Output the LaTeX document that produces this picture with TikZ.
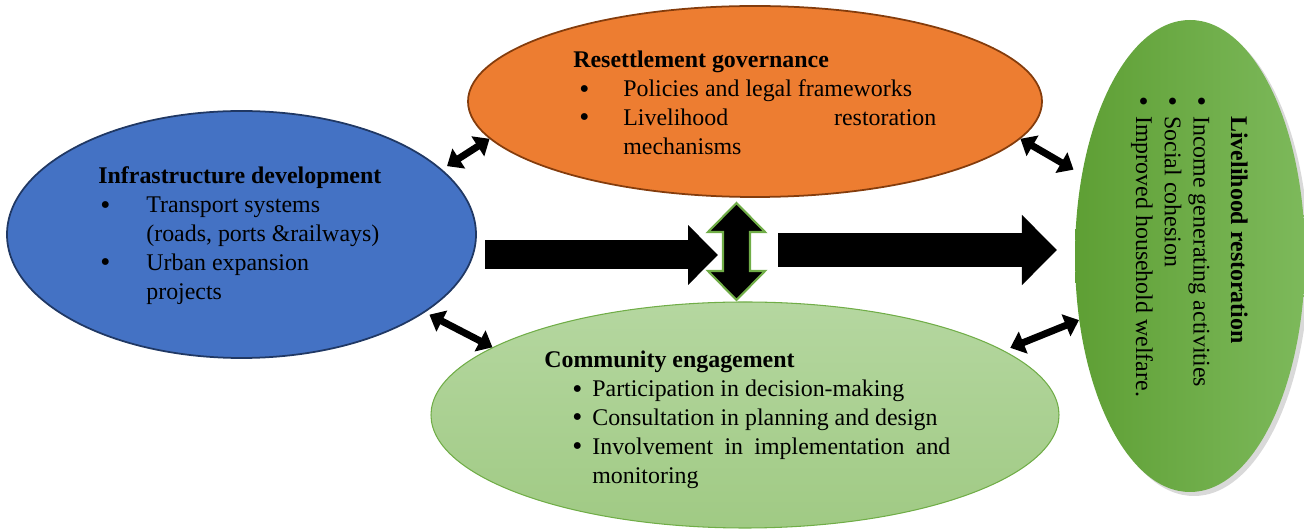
\documentclass[tikz,border=0pt]{standalone}
\usepackage{fontspec}
\setmainfont{Liberation Serif}
\usetikzlibrary{shapes.geometric,arrows.meta,shadows}

\definecolor{infrablue}{HTML}{4472C4}
\definecolor{infraedge}{HTML}{203864}
\definecolor{govorange}{HTML}{ED7D31}
\definecolor{govedge}{HTML}{843C0C}
\definecolor{commtop}{HTML}{B5D7A0}
\definecolor{commbottom}{HTML}{A0CA84}
\definecolor{commedge}{HTML}{70AD47}
\definecolor{livleft}{HTML}{5E9F34}
\definecolor{livright}{HTML}{7DB95B}

\newcommand{\blt}{\raisebox{-0.05em}{\scalebox{1.2}{\textbullet}}}

\begin{document}
\begin{tikzpicture}[
    bubble/.style={ellipse, inner sep=0pt},
    txt/.style={inner sep=0pt, anchor=base west, font=\fontsize{13.6}{16.4}\selectfont},
    twoway/.style={line width=0.14cm, >={Triangle[length=0.28cm,width=0.46cm]}, <->},
    bigarrow/.style={line width=#1, >={Triangle[length=0pt 1.03,width=0pt 2]}, ->}
  ]
  \useasboundingbox (0,0) rectangle (26.08,10.62);

  \node[bubble, fill=infrablue, draw=infraedge, line width=1pt,
        minimum width=9.38cm, minimum height=4.94cm] (infra) at (4.83,5.93) {};
  \node[bubble, fill=govorange, draw=govedge, line width=1pt,
        minimum width=11.48cm, minimum height=3.82cm] (gov) at (15.10,8.59) {};
  \node[bubble, top color=commtop, bottom color=commbottom, draw=commedge, line width=0.6pt,
        minimum width=12.56cm, minimum height=4.52cm] (comm) at (14.90,2.32) {};
  \node[bubble, left color=livleft, right color=livright,
        drop shadow={opacity=0.3, shadow xshift=0.08cm, shadow yshift=-0.08cm},
        minimum width=4.60cm, minimum height=9.44cm] (liv) at (23.80,5.50) {};

  \node[txt] (infratxt) at (1.96,6.94) {%
    \begin{tabular}[t]{@{\hspace{0.04cm}}p{0.92cm}@{}l@{}}
      \multicolumn{2}{@{}l@{}}{\textbf{Infrastructure development}}\\
      \blt & Transport systems\\
           & (roads, ports \&railways)\\
      \blt & Urban expansion\\
           & projects
    \end{tabular}};
  \node[txt] (govtxt) at (11.46,9.26) {%
    \begin{tabular}[t]{@{\hspace{0.12cm}}p{0.88cm}@{}l@{}}
      \multicolumn{2}{@{}l@{}}{\textbf{Resettlement governance}}\\
      \blt & Policies and legal frameworks\\
      \blt & \makebox[6.26cm][s]{Livelihood restoration}\\
           & mechanisms
    \end{tabular}};
  \node[txt] (commtxt) at (10.88,3.26) {%
    \begin{tabular}[t]{@{\hspace{0.56cm}}p{0.4cm}@{}l@{}}
      \multicolumn{2}{@{}l@{}}{\textbf{Community engagement}}\\
      \blt & Participation in decision-making\\
      \blt & Consultation in planning and design\\
      \blt & \makebox[7.16cm][s]{Involvement in implementation and}\\
           & monitoring
    \end{tabular}};
  \node[txt, rotate=-90] (livtxt) at (24.62,8.70) {%
    \begin{tabular}[t]{@{}p{0.4cm}@{}l@{}}
           & \textbf{Livelihood restoration}\\[0.17cm]
      \blt & Income generating activities\\
      \blt & Social cohesion\\
      \blt & Improved household welfare.
    \end{tabular}};

  \coordinate (feed) at (9.70,5.52);
  \coordinate (feedend) at (14.36,5.52);
  \coordinate (out) at (15.56,5.62);
  \coordinate (outend) at (21.14,5.62);
  \coordinate (link) at (14.73,5.59);

  \draw[bigarrow=0.58cm] (feed) -- (feedend);
  \draw[bigarrow=0.68cm] (out) -- (outend);

  \filldraw[fill=black, draw=commedge, line width=1.2pt]
    (link) ++(0,0.97) -- ++(0.57,-0.58) -- ++(-0.3,0) -- ++(0,-0.78)
    -- ++(0.3,0) -- ++(-0.57,-0.58) -- ++(-0.57,0.58) -- ++(0.3,0)
    -- ++(0,0.78) -- ++(-0.3,0) -- cycle;

  \draw[twoway, shorten <=0.12cm] (infra.18) -- (gov.188);
  \draw[twoway, shorten <=0.1cm] (infra.337) -- (comm.165);
  \draw[twoway, shorten >=0.19cm] (gov.352) -- (liv.143);
  \draw[twoway, shorten <=0.14cm] (comm.14) -- (liv.210);
\end{tikzpicture}
\end{document}
